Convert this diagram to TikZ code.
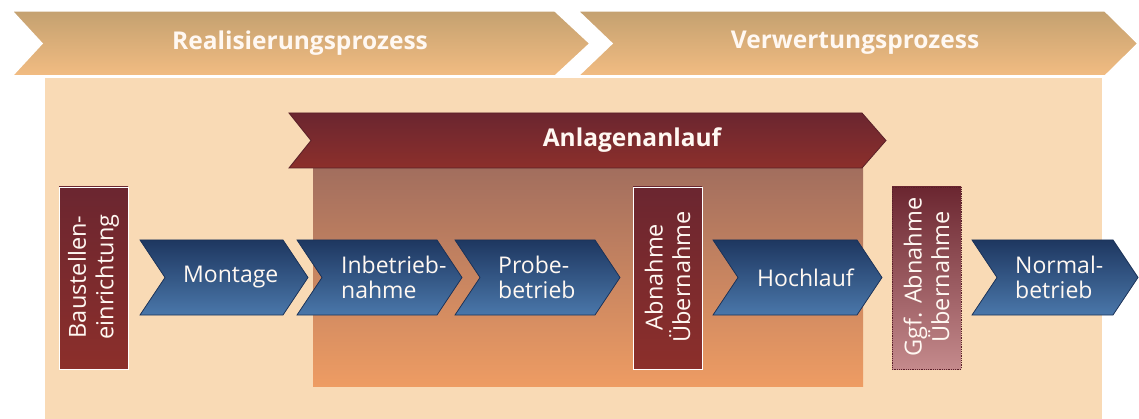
\documentclass[tikz,border=0pt]{standalone}
\usepackage{fontspec}
\setmainfont{Open Sans}
\definecolor{peach}{HTML}{F9DAB5}
\definecolor{hdtop}{HTML}{C4A170}
\definecolor{hdbot}{HTML}{F2BC82}
\definecolor{rtop}{HTML}{6B2630}
\definecolor{rbot}{HTML}{8C2F2B}
\definecolor{rline}{HTML}{5A2028}
\definecolor{ptop}{HTML}{C48A8C}
\definecolor{gtop}{HTML}{A26E5E}
\definecolor{gbot}{HTML}{EE9C63}
\definecolor{btop}{HTML}{1E3760}
\definecolor{bbot}{HTML}{4A77AA}
\definecolor{bline}{HTML}{1B3258}
\definecolor{txt}{HTML}{FFF8F2}
\newcommand\mychev[2]{% left, tip
  \shade[top color=btop,bottom color=bbot,draw=bline,line width=0.8pt]
    (#1,240) -- ({#2-25},240) -- (#2,277.5) -- ({#2-25},315) -- (#1,315) -- ({#1+25},277.5) -- cycle;
}
\begin{document}
\begin{tikzpicture}[x=1pt,y=-1pt,
  hdtext/.style={text=txt,font=\fontsize{24.5}{28}\selectfont\bfseries},
  chtext/.style={text=txt,font=\fontsize{23}{25}\selectfont,align=left,anchor=west,inner sep=0pt},
  vtext/.style={text=txt,font=\fontsize{23.5}{27.5}\selectfont,align=center,rotate=90,inner sep=0pt}]
\useasboundingbox (0,0) rectangle (1139,419);
\fill[white] (0,0) rectangle (1139,419);
% background
\fill[peach] (45,78) rectangle (1102,419);
% top chevrons
\shade[top color=hdtop,bottom color=hdbot,draw=white,line width=1.5pt]
  (12,11) -- (555,11) -- (590,43.5) -- (555,76) -- (12,76) -- (42,43.5) -- cycle;
\shade[top color=hdtop,bottom color=hdbot,draw=white,line width=1.5pt]
  (578,11) -- (1105,11) -- (1138,43.5) -- (1105,76) -- (578,76) -- (612,43.5) -- cycle;
\node[hdtext] (real) at (300,43) {Realisierungsprozess};
\node[hdtext] (verw) at (855,43) {Verwertungsprozess};
% Anlagenanlauf area
\shade[top color=gtop,bottom color=gbot] (313,168) rectangle (863,386);
\shade[top color=rtop,bottom color=rbot,draw=rline,line width=0.8pt]
  (289,113) -- (862,113) -- (886,140.5) -- (862,168) -- (289,168) -- (311,140.5) -- cycle;
\node[hdtext] (anl) at (632,140) {Anlagenanlauf};
% red boxes
\shade[top color=rtop,bottom color=rbot,draw=white,line width=0.8pt] (59,187) rectangle (128,369);
\node[vtext] (baust) at (93.5,277) {Baustellen-\\einrichtung};
\shade[top color=rtop,bottom color=rbot,draw=white,line width=0.8pt] (633,187) rectangle (702,369);
\node[vtext] (abn) at (667.5,277) {Abnahme\\Übernahme};
\shade[top color=rtop,bottom color=ptop,draw=rline,densely dotted,line width=0.8pt] (892,187) rectangle (961,369);
\node[vtext] (ggf) at (926.5,277) {Ggf. Abnahme\\Übernahme};
% blue chevrons
\mychev{140}{308}
\node[chtext] (mont) at (183,277.5) {Montage};
\mychev{297}{462}
\node[chtext] (inb) at (341,277.5) {Inbetrieb-\\nahme};
\mychev{455}{620}
\node[chtext] (probe) at (498,277.5) {Probe-\\betrieb};
\mychev{713}{882}
\node[chtext] (hoch) at (757,277.5) {Hochlauf};
\mychev{972}{1138}
\node[chtext] (norm) at (1015,277.5) {Normal-\\betrieb};
\end{tikzpicture}
\end{document}
